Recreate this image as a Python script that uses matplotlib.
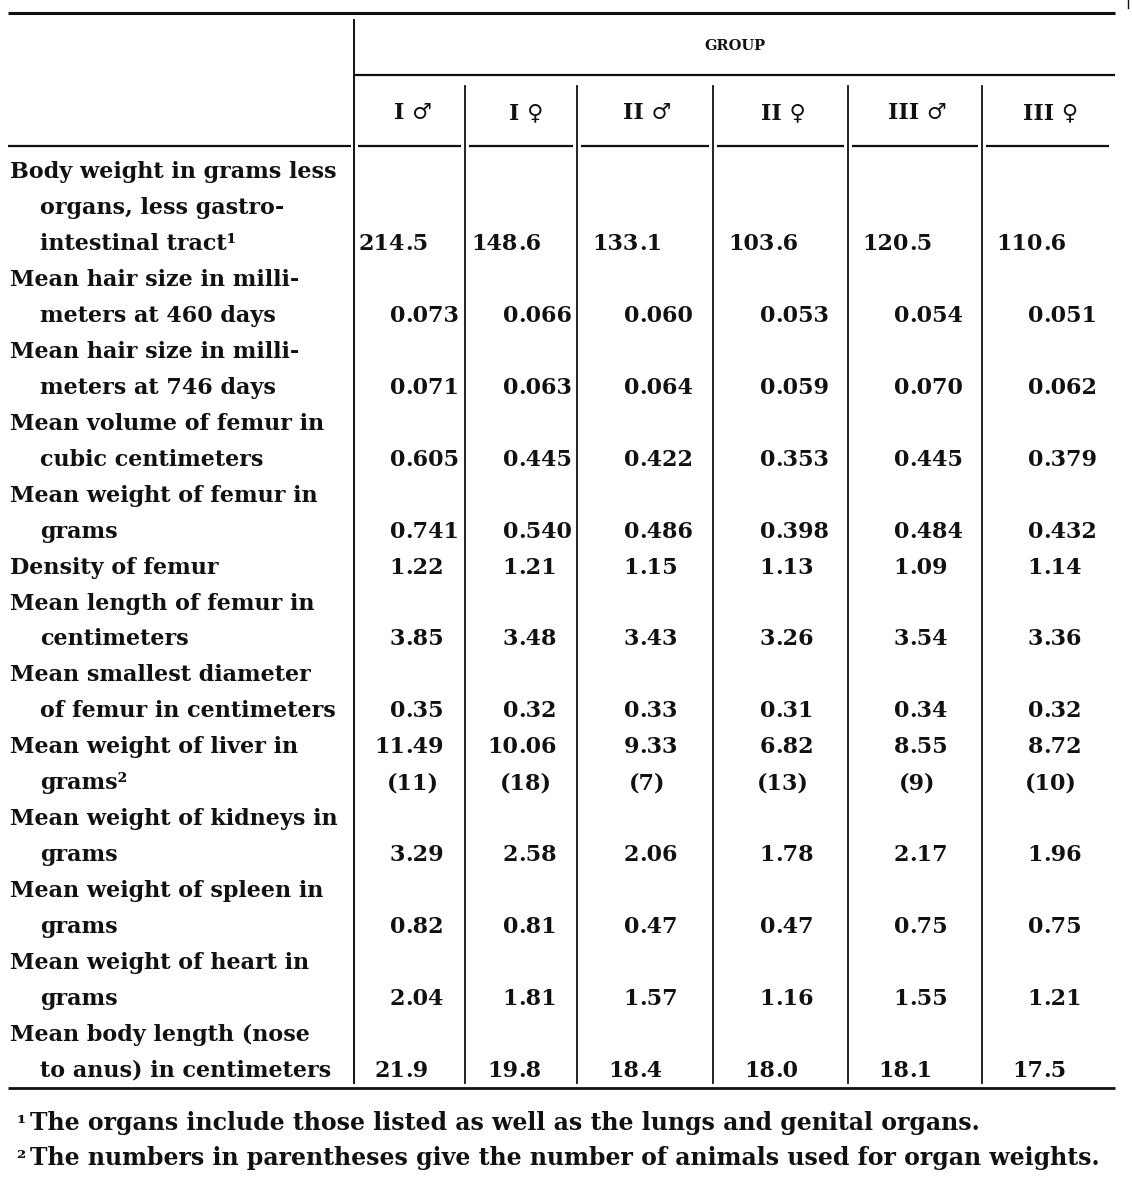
import matplotlib
matplotlib.use("Agg")
import matplotlib.pyplot as plt

# ---------------- data ----------------
groups = ["I ♂", "I ♀", "II ♂", "II ♀", "III ♂", "III ♀"]
header = "GROUP"

row_labels = [
    ["Body weight in grams less", "organs, less gastro-", "intestinal tract¹"],
    ["Mean hair size in milli-", "meters at 460 days"],
    ["Mean hair size in milli-", "meters at 746 days"],
    ["Mean volume of femur in", "cubic centimeters"],
    ["Mean weight of femur in", "grams"],
    ["Density of femur"],
    ["Mean length of femur in", "centimeters"],
    ["Mean smallest diameter", "of femur in centimeters"],
    ["Mean weight of liver in", "grams²"],
    ["Mean weight of kidneys in", "grams"],
    ["Mean weight of spleen in", "grams"],
    ["Mean weight of heart in", "grams"],
    ["Mean body length (nose", "to anus) in centimeters"],
]

body_weight = ["214.5", "148.6", "133.1", "103.6", "120.5", "110.6"]
hair_460 = ["0.073", "0.066", "0.060", "0.053", "0.054", "0.051"]
hair_746 = ["0.071", "0.063", "0.064", "0.059", "0.070", "0.062"]
femur_volume = ["0.605", "0.445", "0.422", "0.353", "0.445", "0.379"]
femur_weight = ["0.741", "0.540", "0.486", "0.398", "0.484", "0.432"]
femur_density = ["1.22", "1.21", "1.15", "1.13", "1.09", "1.14"]
femur_length = ["3.85", "3.48", "3.43", "3.26", "3.54", "3.36"]
femur_diameter = ["0.35", "0.32", "0.33", "0.31", "0.34", "0.32"]
liver_weight = ["11.49", "10.06", "9.33", "6.82", "8.55", "8.72"]
liver_n = ["11", "18", "7", "13", "9", "10"]
kidney_weight = ["3.29", "2.58", "2.06", "1.78", "2.17", "1.96"]
spleen_weight = ["0.82", "0.81", "0.47", "0.47", "0.75", "0.75"]
heart_weight = ["2.04", "1.81", "1.57", "1.16", "1.55", "1.21"]
body_length = ["21.9", "19.8", "18.4", "18.0", "18.1", "17.5"]

row_values = [body_weight, hair_460, hair_746, femur_volume, femur_weight,
              femur_density, femur_length, femur_diameter, liver_weight,
              kidney_weight, spleen_weight, heart_weight, body_length]

footnotes = [
    ("¹", "The organs include those listed as well as the lungs and genital organs."),
    ("²", "The numbers in parentheses give the number of animals used for organ weights."),
]

# ---------------- layout ----------------
W, H = 1132, 1182
fig = plt.figure(figsize=(W / 100, H / 100), dpi=100)
ax = fig.add_axes([0, 0, 1, 1])
ax.set_xlim(0, W)
ax.set_ylim(H, 0)
ax.axis("off")

FAM = ["DejaVu Serif", "DejaVu Sans"]
FS = 16.0
col_edges = [354, 465, 577, 713, 848, 982, 1113]
dec_off = [51, 53, 62, 62, 61, 61]
dec_x = [col_edges[i] + dec_off[i] for i in range(6)]
left_x = 10
indent = 30
y0 = 178
dy = 35.96

ink = "#111111"

def txt(x, y, s, ha="left", size=FS, **kw):
    ax.text(x, y, s, ha=ha, va="baseline", fontsize=size, family=FAM,
            fontweight="bold", color=ink, **kw)

# rules
ax.plot([8, 1115], [13, 13], color=ink, lw=2.2, solid_capstyle="butt")
ax.plot([1128, 1128], [0, 8], color=ink, lw=1.0)
ax.plot([354, 1115], [75, 75], color=ink, lw=1.6, solid_capstyle="butt")
segs = [(8, 351)] + [(col_edges[i] + 4, col_edges[i + 1] - 4) for i in range(6)]
for a, b in segs:
    ax.plot([a, b], [146, 146], color=ink, lw=1.6, solid_capstyle="butt")
ax.plot([8, 1115], [1088, 1088], color=ink, lw=2.0, solid_capstyle="butt")
ax.plot([354, 354], [20, 1083], color=ink, lw=1.4)
for x in col_edges[1:-1]:
    ax.plot([x, x], [86, 1083], color=ink, lw=1.3)

# header
ax.text(735, 50, header, ha="center", va="baseline", fontsize=10.5,
        family=FAM, fontweight="bold", color=ink)
for i, g in enumerate(groups):
    cx = dec_x[i] + 8
    txt(cx, 119, g, ha="center")

# body rows
line = 0
for labels, vals in zip(row_labels, row_values):
    for j, lab in enumerate(labels):
        txt(left_x + (indent if j > 0 else 0), y0 + dy * (line + j), lab)
    vline = line if vals is liver_weight else line + len(labels) - 1
    yv = y0 + dy * vline
    for i, v in enumerate(vals):
        ip, fp = v.split(".")
        txt(dec_x[i], yv, ip, ha="right")
        txt(dec_x[i], yv, "." + fp, ha="left")
    if vals is liver_weight:
        for i, n in enumerate(liver_n):
            txt(dec_x[i] + 8, yv + dy, "(" + n + ")", ha="center")
    line += len(labels)

# footnotes
for k, (mark, note) in enumerate(footnotes):
    yb = 1130 + 35 * k
    txt(16, yb, mark, size=15)
    txt(30, yb, note, size=17)

fig.savefig("out.png", dpi=100, facecolor="white")
